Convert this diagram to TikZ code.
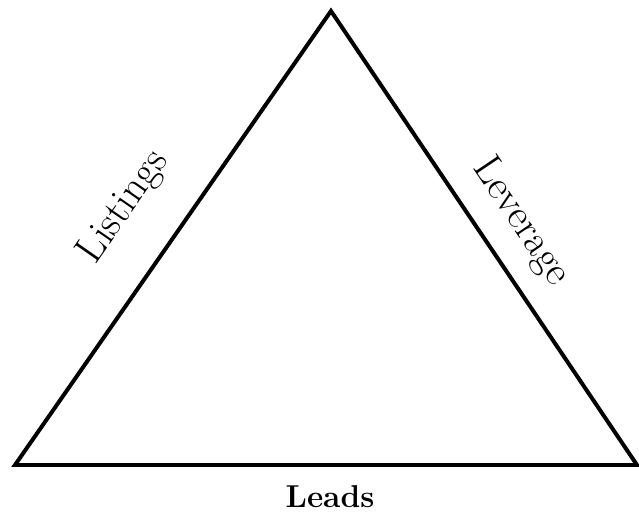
\documentclass[tikz,border=0pt]{standalone}
\usepackage{tikz}
\usetikzlibrary{positioning, calc}

\begin{document}
\begin{tikzpicture}[x=0.03cm, y=-0.03cm, line join=miter]
        \useasboundingbox (0,0) rectangle (639,523);
        \tikzset{side/.style={font=\fontsize{35}{40}\selectfont}}

        \coordinate (top) at (331,11);
        \coordinate (bl) at (15,465);
        \coordinate (br) at (637,465);

        \draw[line width=3.4pt] (bl) -- (top) -- (br) -- cycle;

        \node[side, rotate=55.2] (listings) at (124,207) {Listings};
        \node[side, rotate=-56] (leverage) at (521,222) {Leverage};
        \node[side, font=\fontsize{27}{31}\selectfont\bfseries] (leads) at (330,497) {Leads};
      \end{tikzpicture}
\end{document}
